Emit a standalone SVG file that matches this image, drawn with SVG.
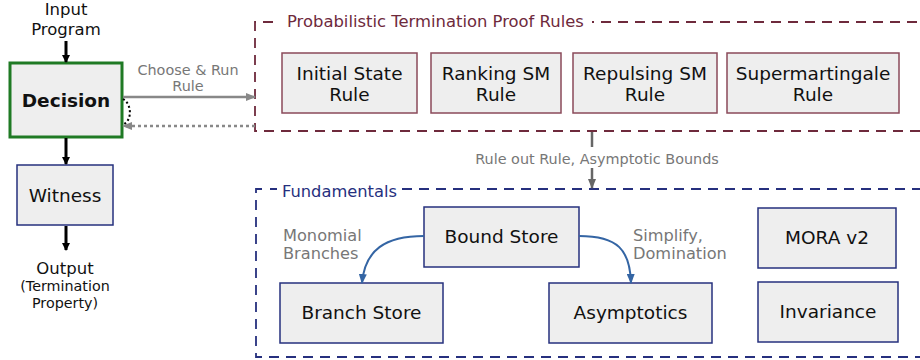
<svg xmlns="http://www.w3.org/2000/svg" width="920" height="360" viewBox="0 0 920 360">
<style>
text{font-family:"DejaVu Sans","Liberation Sans",sans-serif;}
.rule{fill:#eeeeee;stroke:#8a4a5a;stroke-width:1.5;}
.fund{fill:#eeeeee;stroke:#26307e;stroke-width:1.5;}
.lbl{font-size:18.5px;fill:#111;text-anchor:middle;}
.edge{font-size:14.4px;fill:#777;}
.edge2{font-size:16.2px;fill:#777;}
</style>
<defs>
<marker id="ab" markerWidth="8" markerHeight="8" refX="7" refY="4" orient="auto" markerUnits="userSpaceOnUse"><path d="M0,0 L8,4 L0,8 z" fill="#000"/></marker>
<marker id="ag" markerWidth="10" markerHeight="8" refX="9" refY="4" orient="auto" markerUnits="userSpaceOnUse"><path d="M0,0 L10,4 L0,8 z" fill="#888"/></marker>
<marker id="ad" markerWidth="10" markerHeight="8" refX="9" refY="4" orient="auto" markerUnits="userSpaceOnUse"><path d="M0,0 L10,4 L0,8 z" fill="#666"/></marker>
<marker id="abl" markerWidth="10" markerHeight="8" refX="9" refY="4" orient="auto" markerUnits="userSpaceOnUse"><path d="M0,0 L10,4 L0,8 z" fill="#3465a4"/></marker>
</defs>

<g id="containers">
<g id="prob-group">
<path d="M273,22 L255,22 L255,131 L920,131" fill="none" stroke="#6e2a3c" stroke-width="1.8" stroke-dasharray="10,7"/>
<path d="M592,22 L920,22" fill="none" stroke="#6e2a3c" stroke-width="1.8" stroke-dasharray="2,7,10,7,10,7,10,7,10,7,10,7,10,7,10,7,10,7,10,7,10,7,10,7,10,7,10,7,10,7,10,7,10,7,10,7,10,7,10,7,10,7,10,7,10,7,10,7"/>
<text x="287" y="27" font-size="16.4" fill="#6e2a3c">Probabilistic Termination Proof Rules</text>
</g>
<g id="fund-group">
<path d="M262,189 L256,189 L256,357 L920,357" fill="none" stroke="#26307e" stroke-width="1.8" stroke-dasharray="10,7"/>
<path d="M270,189 L277,189 M402,189 L920,189" fill="none" stroke="#26307e" stroke-width="1.8" stroke-dasharray="10,7"/>
<text x="282" y="197" font-size="16.3" fill="#26307e">Fundamentals</text>
</g>
</g>

<g id="input-label"><text x="66" y="15" font-size="16.5" fill="#111" text-anchor="middle">Input</text><text x="66" y="35" font-size="16.5" fill="#111" text-anchor="middle">Program</text></g>

<g id="decision"><rect x="10" y="63" width="112" height="74" fill="#eeeeee" stroke="#1f7a24" stroke-width="3"/><text x="66" y="106.5" font-size="18.5" font-weight="bold" fill="#111" text-anchor="middle">Decision</text></g>

<g id="witness"><rect x="17" y="165" width="96" height="60" class="fund"/><text x="65" y="201.5" class="lbl">Witness</text></g>

<g id="output-label"><text x="65" y="274" font-size="16.5" fill="#111" text-anchor="middle">Output</text><text x="65" y="291" font-size="14.3" fill="#111" text-anchor="middle">(Termination</text><text x="65" y="308" font-size="14.3" fill="#111" text-anchor="middle">Property)</text></g>

<g id="initial-state"><rect x="282" y="53" width="135" height="60" class="rule"/><text x="349.5" y="79.5" class="lbl">Initial State</text><text x="349.5" y="101" class="lbl">Rule</text></g>
<g id="ranking-sm"><rect x="431" y="53" width="130" height="60" class="rule"/><text x="496" y="79.5" class="lbl">Ranking SM</text><text x="496" y="101" class="lbl">Rule</text></g>
<g id="repulsing-sm"><rect x="573" y="53" width="144" height="60" class="rule"/><text x="645" y="79.5" class="lbl">Repulsing SM</text><text x="645" y="101" class="lbl">Rule</text></g>
<g id="supermartingale"><rect x="727" y="53" width="172" height="60" class="rule"/><text x="813" y="79.5" class="lbl">Supermartingale</text><text x="813" y="101" class="lbl">Rule</text></g>

<g id="bound-store"><rect x="424" y="207" width="155" height="60" class="fund"/><text x="501.5" y="243" class="lbl">Bound Store</text></g>
<g id="branch-store"><rect x="280" y="283" width="163" height="60" class="fund"/><text x="361.5" y="319" class="lbl">Branch Store</text></g>
<g id="asymptotics"><rect x="549" y="283" width="163" height="60" class="fund"/><text x="630.5" y="319" class="lbl">Asymptotics</text></g>
<g id="mora"><rect x="758" y="208" width="138" height="60" class="fund"/><text x="827" y="244" class="lbl">MORA v2</text></g>
<g id="invariance"><rect x="758" y="282" width="140" height="60" class="fund"/><text x="828" y="318" class="lbl">Invariance</text></g>

<g id="connectors">
<line x1="66" y1="41" x2="66" y2="62" stroke="#000" stroke-width="3" marker-end="url(#ab)"/>
<line x1="66" y1="138" x2="66" y2="164" stroke="#000" stroke-width="3" marker-end="url(#ab)"/>
<line x1="66" y1="226" x2="66" y2="250" stroke="#000" stroke-width="3" marker-end="url(#ab)"/>
<line x1="123" y1="97" x2="255" y2="97" stroke="#888" stroke-width="2.5" marker-end="url(#ag)"/>
<text x="188" y="75" class="edge" text-anchor="middle">Choose &amp; Run</text>
<text x="188" y="91" class="edge" text-anchor="middle">Rule</text>
<line x1="255" y1="126" x2="123" y2="126" stroke="#888" stroke-width="2.5" stroke-dasharray="3,3" marker-end="url(#ag)"/>
<path d="M123,99 C132,104 132,120 124,124" fill="none" stroke="#000" stroke-width="2" stroke-dasharray="2,2.5"/>
<line x1="592" y1="132" x2="592" y2="147" stroke="#666" stroke-width="2.5"/>
<text x="597" y="164" class="edge" text-anchor="middle">Rule out Rule, Asymptotic Bounds</text>
<line x1="592" y1="168" x2="592" y2="188" stroke="#666" stroke-width="2.5" marker-end="url(#ad)"/>
<path d="M424,236 C385,236 365,250 362,283" fill="none" stroke="#3465a4" stroke-width="2" marker-end="url(#abl)"/>
<path d="M579,236 C618,236 630,250 631,283" fill="none" stroke="#3465a4" stroke-width="2" marker-end="url(#abl)"/>
<text x="283" y="241" class="edge2">Monomial</text>
<text x="283" y="259" class="edge2">Branches</text>
<text x="633" y="241" class="edge2">Simplify,</text>
<text x="633" y="259" class="edge2">Domination</text>
</g>
</svg>
